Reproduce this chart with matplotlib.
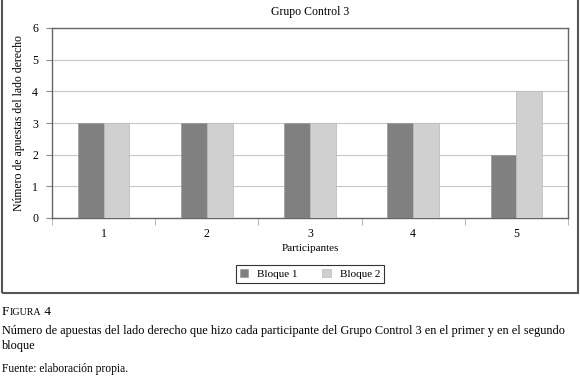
import matplotlib
matplotlib.use("Agg")
import matplotlib.pyplot as plt
import numpy as np
from matplotlib.patches import Rectangle

plt.rcParams["font.family"] = ["Liberation Serif", "DejaVu Serif"]

participantes = ["1", "2", "3", "4", "5"]
bloque1 = [3, 3, 3, 3, 2]
bloque2 = [3, 3, 3, 3, 4]
series_names = ["Bloque 1", "Bloque 2"]

W, H = 580, 380
fig = plt.figure(figsize=(W / 100, H / 100), dpi=100)
fig.patch.set_facecolor("white")

# axes placed in pixel coords
left, right, top, bottom = 52, 568, 28, 218
ax = fig.add_axes([left / W, 1 - bottom / H, (right - left) / W, (bottom - top) / H])

x = np.arange(1, len(participantes) + 1)
bw = 0.25
ax.bar(x - bw / 2, bloque1, bw, color="#808080", edgecolor="#9a9a9a", linewidth=0.5,
       label=series_names[0], zorder=3)
ax.bar(x + bw / 2, bloque2, bw, color="#d0d0d0", edgecolor="#b8b8b8", linewidth=0.5,
       label=series_names[1], zorder=3)

ax.set_xlim(0.5, len(participantes) + 0.5)
ax.set_ylim(0, 6)
ax.set_yticks(range(0, 7))
ax.set_xticks(x)
ax.set_xticklabels(participantes)
ax.set_xticks(np.arange(0.5, len(participantes) + 1), minor=True)
ax.tick_params(axis="x", which="major", length=0, pad=7, labelsize=8.5)
ax.tick_params(axis="x", which="minor", length=5, color="#aaaaaa", direction="out")
ax.tick_params(axis="y", length=4, color="#888888", labelsize=8.5, pad=6)
ax.grid(axis="y", color="#c8c8c8", linewidth=0.8, zorder=0)
for s in ax.spines.values():
    s.set_color("#666666")
    s.set_linewidth(1.0)

ax.set_title("Grupo Control 3", fontsize=8.5, pad=9)
ax.set_xlabel("Participantes", fontsize=8, labelpad=3)
ax.set_ylabel("Número de apuestas del lado derecho", fontsize=8.5, labelpad=5)

leg = ax.legend(loc="center", bbox_to_anchor=(310 / W, 1 - 274 / H),
                bbox_transform=fig.transFigure, ncol=2, frameon=True,
                fancybox=False, edgecolor="black", fontsize=8,
                handlelength=0.8, handleheight=0.8, columnspacing=2.2,
                borderpad=0.35)
leg.get_frame().set_linewidth(0.8)

# outer chart frame
fig.patches.append(Rectangle((2 / W, 1 - 293 / H), 576 / W, 293 / H + 0.01,
                             transform=fig.transFigure, fill=False,
                             edgecolor="#555555", linewidth=1.5))

# caption
cap_y = 1 - 315 / H
t_f = fig.text(2 / W, cap_y, "F", fontsize=9.5, va="baseline", ha="left")
fig.canvas.draw()
bb = t_f.get_window_extent()
t_i = fig.text(bb.x1 / W, cap_y, "IGURA", fontsize=7.2, va="baseline", ha="left")
fig.canvas.draw()
bb2 = t_i.get_window_extent()
fig.text(bb2.x1 / W, cap_y, " 4", fontsize=9.5, va="baseline", ha="left")

fig.text(2 / W, 1 - 331 / H,
         "Número de apuestas del lado derecho que hizo cada participante del Grupo Control 3 en el primer y en el segundo",
         fontsize=8.8, va="center", ha="left")
fig.text(2 / W, 1 - 346 / H, "bloque", fontsize=8.8, va="center", ha="left")
fig.text(2 / W, 1 - 369 / H, "Fuente: elaboración propia.", fontsize=8.3,
         va="center", ha="left")

fig.savefig("out.png", dpi=100)
